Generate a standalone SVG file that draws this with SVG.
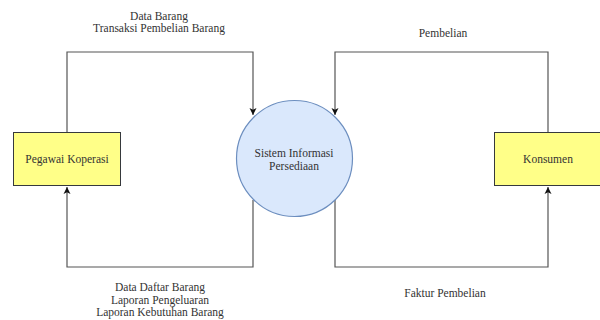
<svg xmlns="http://www.w3.org/2000/svg" width="600" height="320" viewBox="0 0 600 320">
<style>
.ent{fill:#ffff88;stroke:#36393d;stroke-width:1}
.proc{fill:#dae8fc;stroke:#6c8ebf;stroke-width:1.2}
.t{font-family:"Liberation Serif","DejaVu Serif",serif;font-size:11.5px;fill:#333;text-anchor:middle}
.c{fill:none;stroke:#555;stroke-width:1.2}
</style>
<defs>
<marker id="ah" markerWidth="8" markerHeight="8" refX="7" refY="4" orient="auto" markerUnits="userSpaceOnUse">
<path d="M0,0.5 L7,4 L0,7.5 L1.8,4 Z" fill="#111"/>
</marker>
</defs>
<rect width="600" height="320" fill="#fff"/>
<g id="connectors">
<path class="c" d="M67,132 V52 H253 V115" marker-end="url(#ah)"/>
<path class="c" d="M253,200 V267 H67 V187" marker-end="url(#ah)"/>
<path class="c" d="M548,132 V52 H335 V115" marker-end="url(#ah)"/>
<path class="c" d="M335,200 V267 H548 V187" marker-end="url(#ah)"/>
<text class="t" x="159" y="19.5">Data Barang</text>
<text class="t" x="159" y="32">Transaksi Pembelian Barang</text>
<text class="t" x="443" y="37">Pembelian</text>
<text class="t" x="160" y="291">Data Daftar Barang</text>
<text class="t" x="160" y="303.5">Laporan Pengeluaran</text>
<text class="t" x="160" y="316">Laporan Kebutuhan Barang</text>
<text class="t" x="445" y="297">Faktur Pembelian</text>
</g>
<g id="pegawai">
<rect class="ent" x="13.5" y="132.5" width="107" height="53"/>
<text class="t" x="67" y="163">Pegawai Koperasi</text>
</g>
<g id="sistem">
<circle class="proc" cx="294.5" cy="158.5" r="58"/>
<text class="t" x="294" y="157">Sistem Informasi</text>
<text class="t" x="294" y="170">Persediaan</text>
</g>
<g id="konsumen">
<rect class="ent" x="494.5" y="132.5" width="107" height="53"/>
<text class="t" x="548" y="163">Konsumen</text>
</g>
</svg>
